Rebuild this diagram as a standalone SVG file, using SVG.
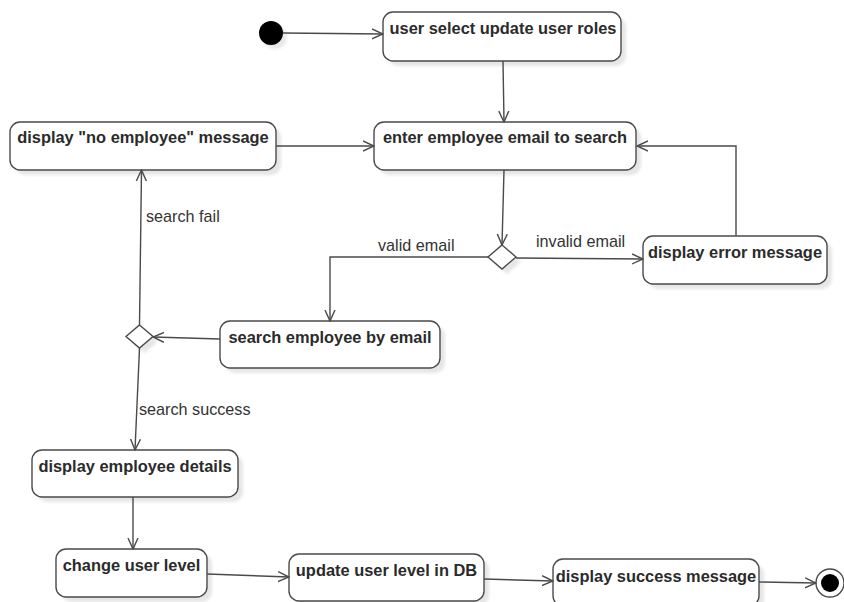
<svg xmlns="http://www.w3.org/2000/svg" width="844" height="602" viewBox="0 0 844 602">
  <style>
    .box { fill: #ffffff; stroke: #4a4a4a; stroke-width: 1.4; }
    .shadow { fill: #e6e6e6; filter: url(#soft); }
    .label { font-family: "Liberation Sans", Arial, sans-serif; font-size: 16.4px; font-weight: bold; fill: #2b2b2b; text-anchor: middle; }
    .guard { font-family: "Liberation Sans", Arial, sans-serif; font-size: 16.2px; fill: #333333; }
    .edge { fill: none; stroke: #4a4a4a; stroke-width: 1.4; marker-end: url(#open); }
  </style>
  <defs>
    <filter id="soft" x="-10%" y="-10%" width="130%" height="140%">
      <feGaussianBlur stdDeviation="1.5"/>
    </filter>
    <marker id="open" viewBox="0 0 12 12" markerWidth="12" markerHeight="12" refX="11" refY="6" orient="auto" markerUnits="userSpaceOnUse">
      <path d="M0,1 L11,6 L0,11" fill="none" stroke="#4a4a4a" stroke-width="1.4"/>
    </marker>
  </defs>

  <rect width="844" height="602" fill="#ffffff"/>

  <!-- start -->
  <g id="start">
    <circle cx="275" cy="37" r="12" fill="#e8e8e8" filter="url(#soft)"/>
    <circle cx="271" cy="33" r="12" fill="#000000"/>
  </g>

  <g id="select-update-roles">
    <rect class="shadow" x="388" y="17" width="238" height="49" rx="10"/>
    <rect class="box" x="383" y="12" width="238" height="49" rx="10"/>
    <text class="label" x="503" y="34">user select update user roles</text>
  </g>

  <g id="enter-email">
    <rect class="shadow" x="379" y="127" width="262" height="48" rx="10"/>
    <rect class="box" x="374" y="122" width="262" height="48" rx="10"/>
    <text class="label" x="505" y="143">enter employee email to search</text>
  </g>

  <g id="no-employee">
    <rect class="shadow" x="15" y="127" width="266" height="48" rx="10"/>
    <rect class="box" x="10" y="122" width="266" height="48" rx="10"/>
    <text class="label" x="143" y="143">display "no employee" message</text>
  </g>

  <g id="email-check">
    <path d="M507,250 L521,262 L507,274 L493,262 Z" fill="#e6e6e6" filter="url(#soft)"/>
    <path d="M502,245 L516,257 L502,269 L488,257 Z" class="box"/>
  </g>

  <g id="error-message">
    <rect class="shadow" x="648" y="241" width="184" height="48" rx="10"/>
    <rect class="box" x="643" y="236" width="184" height="48" rx="10"/>
    <text class="label" x="735" y="258">display error message</text>
  </g>

  <g id="search-by-email">
    <rect class="shadow" x="225" y="326" width="220" height="47" rx="10"/>
    <rect class="box" x="220" y="321" width="220" height="47" rx="10"/>
    <text class="label" x="330" y="343">search employee by email</text>
  </g>

  <g id="search-result">
    <path d="M144.5,330 L158,341.5 L144.5,353 L131,341.5 Z" fill="#e6e6e6" filter="url(#soft)"/>
    <path d="M139.5,325 L153,336.5 L139.5,348 L126,336.5 Z" class="box"/>
  </g>

  <g id="employee-details">
    <rect class="shadow" x="37" y="455" width="206" height="47" rx="10"/>
    <rect class="box" x="32" y="450" width="206" height="47" rx="10"/>
    <text class="label" x="135" y="472">display employee details</text>
  </g>

  <g id="change-level">
    <rect class="shadow" x="61" y="554" width="151" height="48" rx="10"/>
    <rect class="box" x="56" y="549" width="151" height="48" rx="10"/>
    <text class="label" x="131.5" y="571">change user level</text>
  </g>

  <g id="update-db">
    <rect class="shadow" x="294" y="559" width="195" height="47" rx="10"/>
    <rect class="box" x="289" y="554" width="195" height="47" rx="10"/>
    <text class="label" x="386.5" y="576">update user level in DB</text>
  </g>

  <g id="success-message">
    <rect class="shadow" x="558" y="564" width="206" height="47" rx="10"/>
    <rect class="box" x="553" y="559" width="206" height="47" rx="10"/>
    <text class="label" x="656" y="582">display success message</text>
  </g>

  <!-- end -->
  <g id="end">
    <circle cx="830" cy="583" r="14" fill="#ffffff" stroke="#4a4a4a" stroke-width="1.4"/>
    <circle cx="830" cy="583" r="9" fill="#000000"/>
  </g>

  <g id="connectors">
    <path class="edge" d="M283,33 L383,34"/>
    <path class="edge" d="M503,61 L504,122"/>
    <path class="edge" d="M276,146 L374,146"/>
    <path class="edge" d="M504,170 L502,245"/>
    <path class="edge" d="M488,257 L330,257 L330,321"/>
    <path class="edge" d="M516,258 L643,259"/>
    <path class="edge" d="M736,236 L736,146 L637,146"/>
    <path class="edge" d="M220,339 L153,337"/>
    <path class="edge" d="M139.5,325 L141.5,170"/>
    <path class="edge" d="M139.5,348 L135,450"/>
    <path class="edge" d="M133,497 L133,549"/>
    <path class="edge" d="M207,574 L289,577"/>
    <path class="edge" d="M484,579 L553,581"/>
    <path class="edge" d="M759,582 L816,583"/>

    <text class="guard" x="378" y="251">valid email</text>
    <text class="guard" x="536" y="247">invalid email</text>
    <text class="guard" x="146" y="222">search fail</text>
    <text class="guard" x="139" y="415">search success</text>
  </g>
</svg>
